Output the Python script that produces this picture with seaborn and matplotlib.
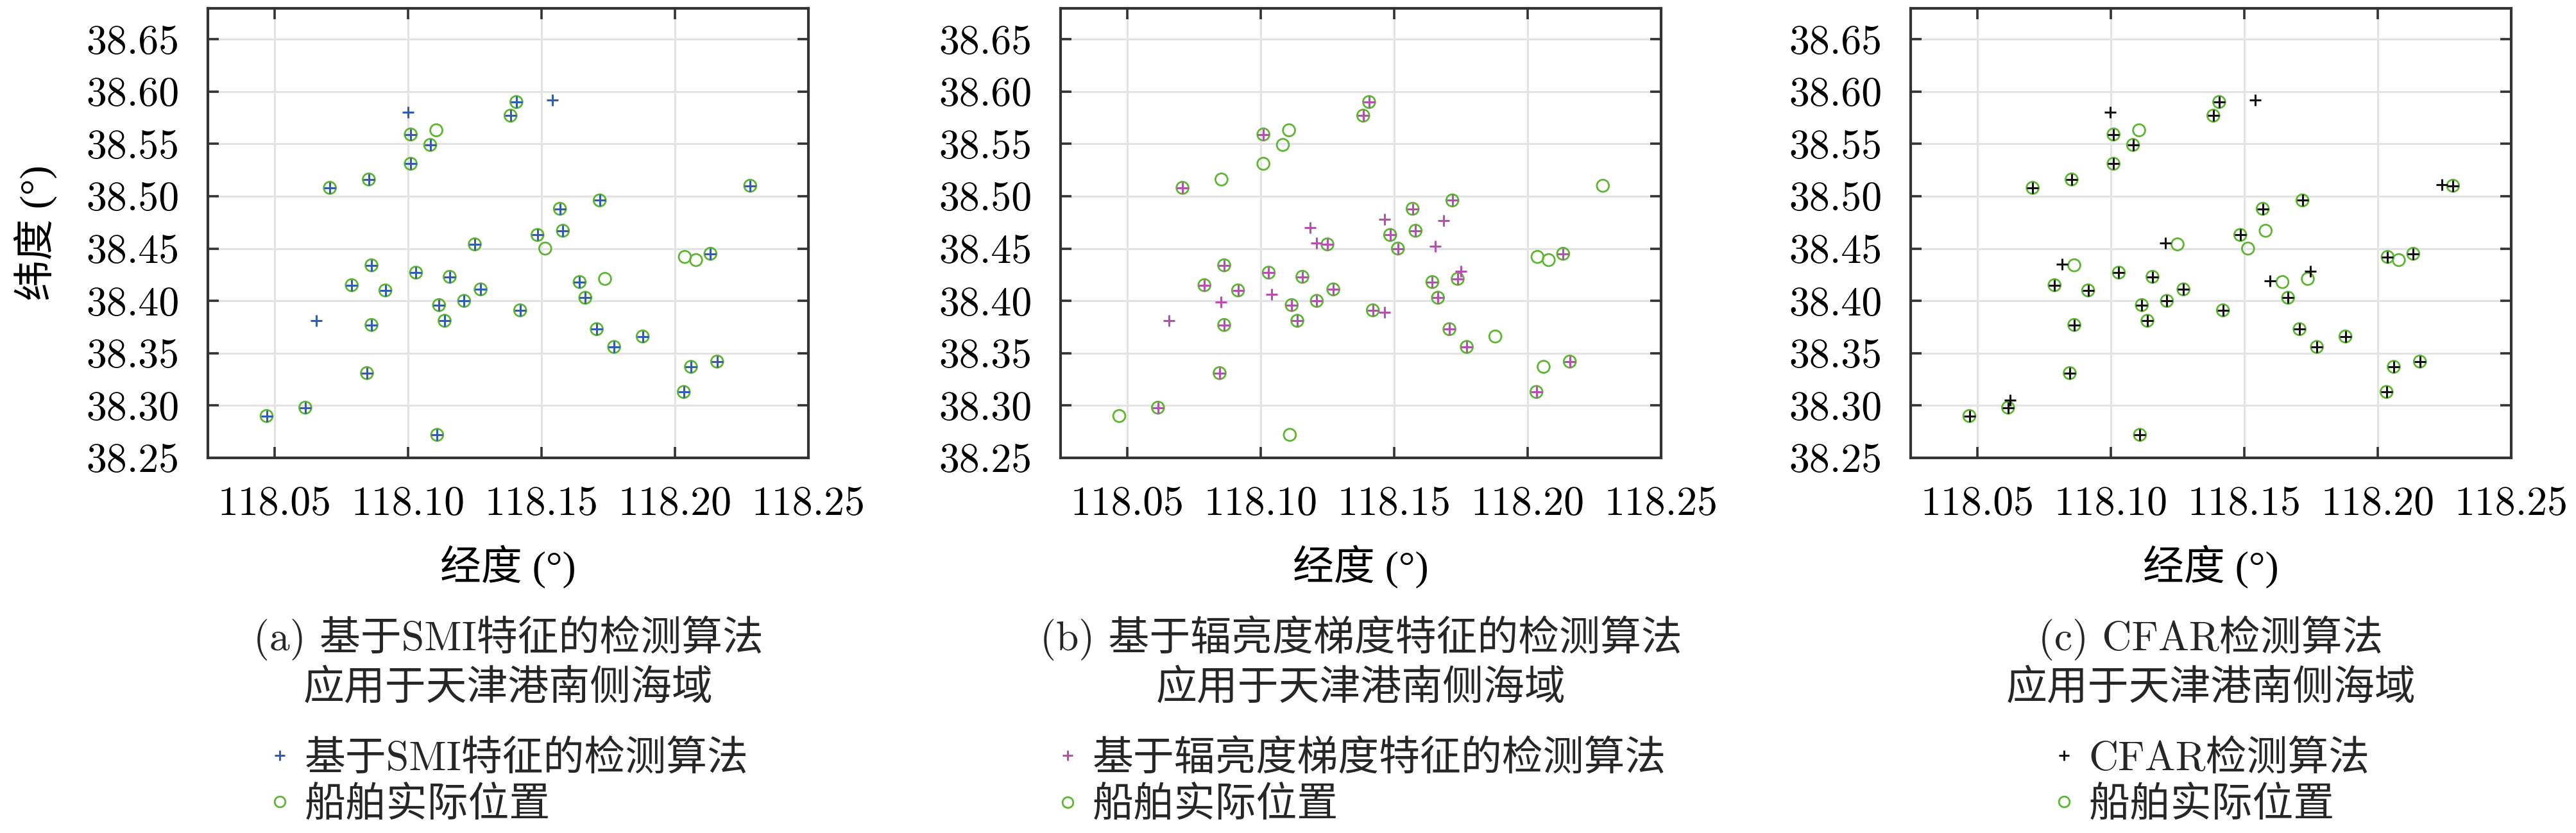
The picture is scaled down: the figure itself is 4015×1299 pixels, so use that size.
import matplotlib
matplotlib.use('Agg')
import matplotlib.pyplot as plt
import seaborn as sns
from matplotlib.lines import Line2D

ship_lon = [118.047, 118.0615, 118.0846, 118.0863, 118.0789, 118.0863, 118.0915, 118.0707,
            118.0853, 118.101, 118.1083, 118.1106, 118.101, 118.103, 118.1116, 118.1137,
            118.1156, 118.121, 118.1272, 118.125, 118.1109, 118.1384, 118.1406, 118.142,
            118.1485, 118.1514, 118.1569, 118.158, 118.1718, 118.1643, 118.1738, 118.1664,
            118.1707, 118.1772, 118.1879, 118.2037, 118.2079, 118.2133, 118.2033, 118.206,
            118.2158, 118.2282]
ship_lat = [38.290, 38.298, 38.331, 38.377, 38.415, 38.434, 38.410, 38.508,
            38.516, 38.559, 38.549, 38.563, 38.531, 38.427, 38.396, 38.381,
            38.423, 38.400, 38.411, 38.454, 38.272, 38.577, 38.590, 38.391,
            38.463, 38.450, 38.488, 38.467, 38.496, 38.418, 38.421, 38.403,
            38.373, 38.356, 38.366, 38.442, 38.439, 38.445, 38.313, 38.337,
            38.342, 38.510]

# (a) SMI feature detections
smi_lon = [118.047, 118.0615, 118.0846, 118.0863, 118.0789, 118.0863, 118.0915, 118.0707,
           118.0853, 118.101, 118.1083, 118.101, 118.103, 118.1116, 118.1137, 118.1156,
           118.121, 118.1272, 118.125, 118.1109, 118.1384, 118.1406, 118.142, 118.1485,
           118.1569, 118.158, 118.1718, 118.1643, 118.1664, 118.1707, 118.1772, 118.1879,
           118.2133, 118.2033, 118.206, 118.2158, 118.2282,
           118.100, 118.1542, 118.0656]
smi_lat = [38.290, 38.298, 38.331, 38.377, 38.415, 38.434, 38.410, 38.508,
           38.516, 38.559, 38.549, 38.531, 38.427, 38.396, 38.381, 38.423,
           38.400, 38.411, 38.454, 38.272, 38.577, 38.590, 38.391, 38.463,
           38.488, 38.467, 38.496, 38.418, 38.403, 38.373, 38.356, 38.366,
           38.445, 38.313, 38.337, 38.342, 38.510,
           38.580, 38.592, 38.381]

# (b) radiance gradient feature detections
grad_lon = [118.0615, 118.0846, 118.0863, 118.0789, 118.0863, 118.0915, 118.0707, 118.101,
            118.103, 118.1116, 118.1137, 118.1156, 118.121, 118.1272, 118.125, 118.1384,
            118.1406, 118.142, 118.1485, 118.1514, 118.1569, 118.158, 118.1718, 118.1643,
            118.1738, 118.1664, 118.1707, 118.1772, 118.2133, 118.2033, 118.2158,
            118.0657, 118.0851, 118.104, 118.1185, 118.1209, 118.1464, 118.1464, 118.1686,
            118.1653, 118.1749]
grad_lat = [38.298, 38.331, 38.377, 38.415, 38.434, 38.410, 38.508, 38.559,
            38.427, 38.396, 38.381, 38.423, 38.400, 38.411, 38.454, 38.577,
            38.590, 38.391, 38.463, 38.450, 38.488, 38.467, 38.496, 38.418,
            38.421, 38.403, 38.373, 38.356, 38.445, 38.313, 38.342,
            38.381, 38.399, 38.406, 38.470, 38.455, 38.478, 38.389, 38.477,
            38.452, 38.428]

# (c) CFAR detections
cfar_lon = [118.047, 118.0615, 118.0846, 118.0863, 118.0789, 118.0915, 118.0707, 118.0853,
            118.101, 118.1083, 118.101, 118.103, 118.1116, 118.1137, 118.1156, 118.121,
            118.1272, 118.1109, 118.1384, 118.1406, 118.142, 118.1485, 118.1569, 118.1718,
            118.1664, 118.1707, 118.1772, 118.1879, 118.2037, 118.2133, 118.2033, 118.206,
            118.2158, 118.2282,
            118.0997, 118.154, 118.0623, 118.224, 118.0818, 118.1204, 118.1596, 118.1747]
cfar_lat = [38.290, 38.298, 38.331, 38.377, 38.415, 38.410, 38.508, 38.516,
            38.559, 38.549, 38.531, 38.427, 38.396, 38.381, 38.423, 38.400,
            38.411, 38.272, 38.577, 38.590, 38.391, 38.463, 38.488, 38.496,
            38.403, 38.373, 38.356, 38.366, 38.442, 38.445, 38.313, 38.337,
            38.342, 38.510,
            38.580, 38.592, 38.305, 38.511, 38.435, 38.455, 38.419, 38.428]

x_ticks = [118.05, 118.10, 118.15, 118.20, 118.25]
y_ticks = [38.25, 38.30, 38.35, 38.40, 38.45, 38.50, 38.55, 38.60, 38.65]

titles = ['(a) 基于SMI特征的检测算法', '(b) 基于辐亮度梯度特征的检测算法', '(c) CFAR检测算法']
det_names = ['基于SMI特征的检测算法', '基于辐亮度梯度特征的检测算法', 'CFAR检测算法']
subtitle = '应用于天津港南侧海域'
ship_name = '船舶实际位置'

sns.set_theme(style='ticks')
plt.rcParams['font.family'] = ['cmr10', 'Noto Sans CJK SC']
plt.rcParams['axes.unicode_minus'] = False
plt.rcParams['axes.formatter.use_mathtext'] = True

# cmr10 has no real degree sign, so the axis labels use a serif font that does
label_font = ['Liberation Serif', 'Noto Sans CJK SC']

green = '#5db531'
det_colors = ['#2f5db5', '#b550b0', '#111111']
det_data = [(smi_lon, smi_lat), (grad_lon, grad_lat), (cfar_lon, cfar_lat)]

W, H = 4016, 1299
fig = plt.figure(figsize=(W / 200, H / 200), dpi=200)
lefts = [324, 1653, 2978]
aw, ah, atop = 936, 701, 13

for i in range(3):
    ax = fig.add_axes([lefts[i] / W, 1 - (atop + ah) / H, aw / W, ah / H])
    ax.set_facecolor('white')
    ax.grid(True, color='#e3e3e3', linewidth=1.1)
    ax.set_axisbelow(True)

    sns.scatterplot(x=ship_lon, y=ship_lat, marker='o', s=46, color=green,
                    facecolors='none', edgecolor=green, linewidth=1.0, ax=ax, zorder=3)
    sns.scatterplot(x=det_data[i][0], y=det_data[i][1], marker='+', s=40,
                    color=det_colors[i], linewidth=1.1, ax=ax, zorder=4)

    ax.set_xlim(118.025, 118.25)
    ax.set_ylim(38.25, 38.6795)
    ax.set_xticks(x_ticks)
    ax.set_yticks(y_ticks)
    ax.set_xticklabels(['%.2f' % v for v in x_ticks])
    ax.set_yticklabels(['%.2f' % v for v in y_ticks])
    ax.tick_params(direction='in', top=True, right=True, length=6, width=1.3,
                   color='#333333', labelsize=23, pad=16, labelcolor='black')
    for sp in ax.spines.values():
        sp.set_color('#333333')
        sp.set_linewidth(1.5)

    ax.set_xlabel('经度 (°)', fontsize=23, labelpad=12, color='black', family=label_font)
    if i == 0:
        ax.set_ylabel('纬度 (°)', fontsize=23, labelpad=16, color='black', family=label_font)

    cx = (lefts[i] + aw / 2) / W
    fig.text(cx, 1 - 995 / H, titles[i], ha='center', va='center', fontsize=23)
    fig.text(cx, 1 - 1073 / H, subtitle, ha='center', va='center', fontsize=23)

    handles = [Line2D([], [], marker='+', linestyle='none', color=det_colors[i],
                      markersize=6, markeredgewidth=1.1),
               Line2D([], [], marker='o', linestyle='none', markerfacecolor='none',
                      markeredgecolor=green, markersize=6, markeredgewidth=1.0)]
    ax.legend(handles, [det_names[i], ship_name], loc='center',
              bbox_to_anchor=(cx, 1 - 1220 / H), bbox_transform=fig.transFigure,
              frameon=False, fontsize=23, handlelength=0.6, handletextpad=0.3,
              labelspacing=0.2, borderpad=0)

fig.savefig('out.png', dpi=200)
